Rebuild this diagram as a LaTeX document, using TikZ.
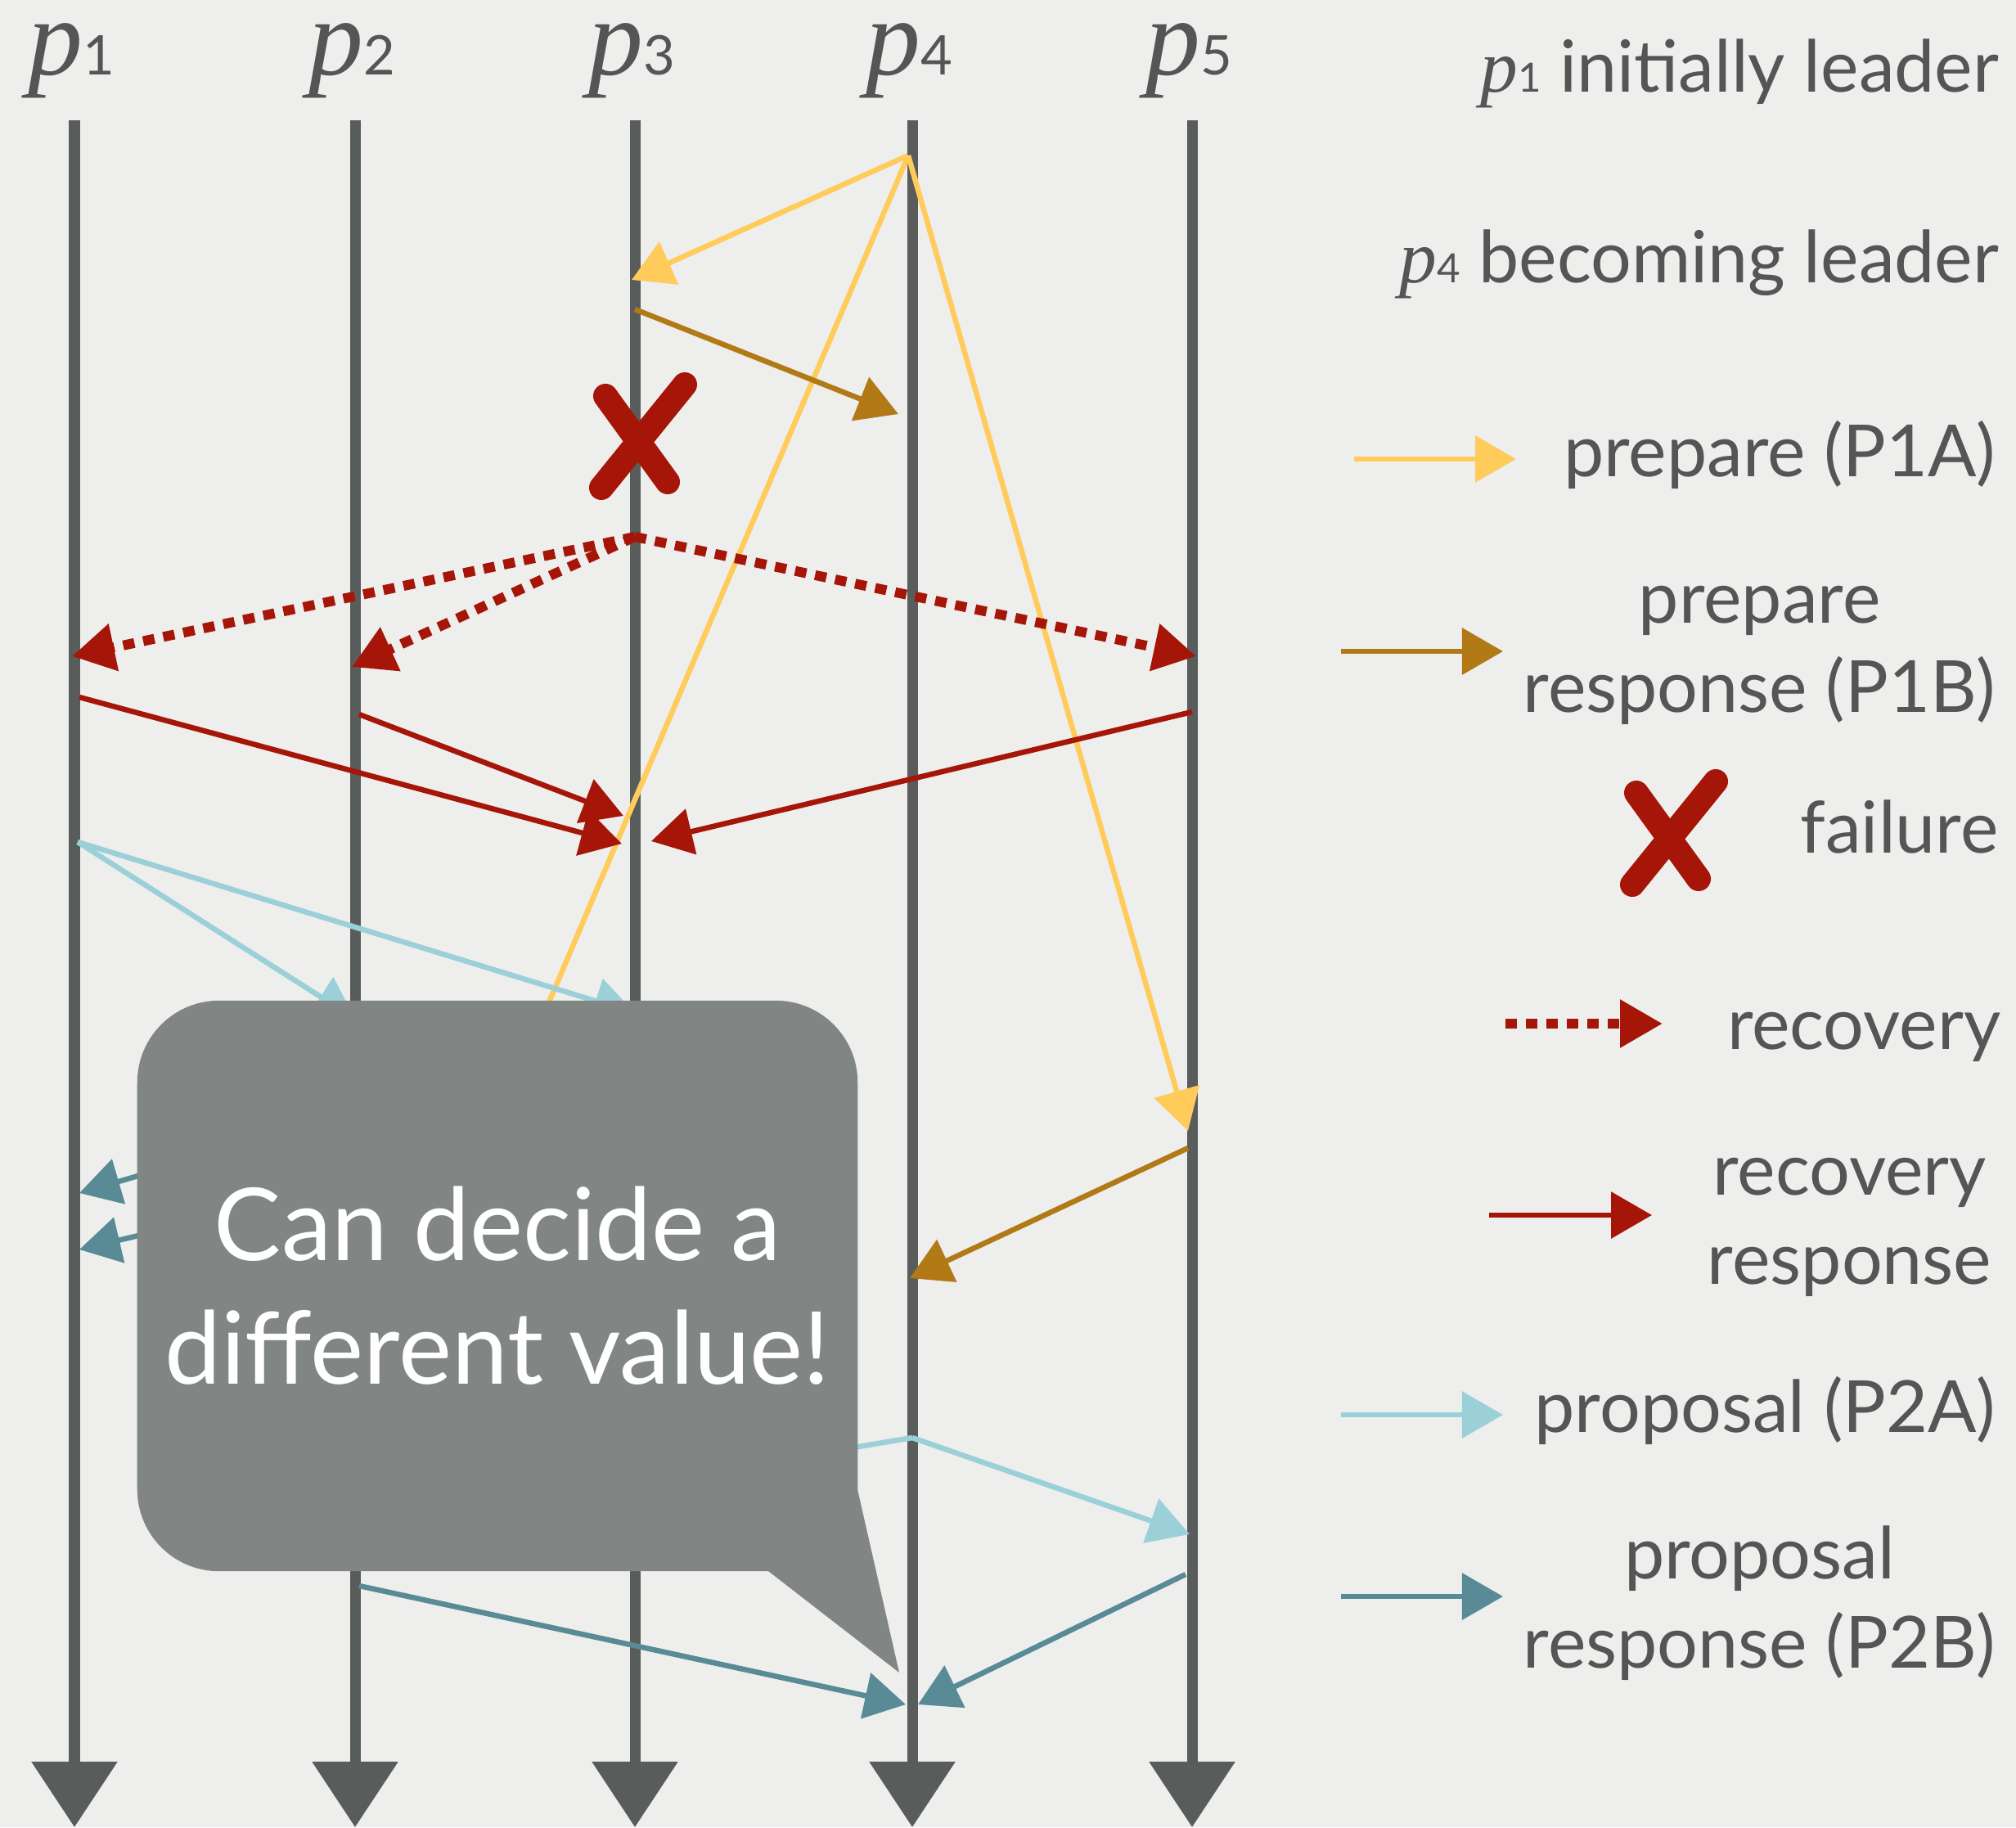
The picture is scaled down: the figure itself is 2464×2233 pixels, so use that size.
\documentclass[tikz,border=0pt]{standalone}
\usepackage{fontspec}
\setmainfont{Lato}
\newfontfamily\pfont{Liberation Serif}
\usetikzlibrary{arrows.meta, positioning}
\definecolor{paper}{RGB}{238,238,237}
\definecolor{lifegray}{RGB}{88,92,91}
\definecolor{textgray}{RGB}{85,85,85}
\definecolor{prepyellow}{RGB}{255,204,92}
\definecolor{prepbrown}{RGB}{178,122,22}
\definecolor{recred}{RGB}{165,22,8}
\definecolor{proplight}{RGB}{156,208,216}
\definecolor{propteal}{RGB}{88,139,150}
\definecolor{bubblegray}{RGB}{129,134,132}
% p with its number: #1 number, #2 size of p, #3 size of number
\newcommand{\procid}[3]{{\pfont\itshape\fontsize{#2}{#2}\selectfont p}{\fontsize{#3}{#3}\selectfont #1}}
\tikzset{
  lifeline/.style={line width=0.13cm, color=lifegray, -{Triangle[length=0.8cm,width=1.02cm]}},
  msg/.style={line width=0.065cm, -{Triangle[length=0.5cm,width=0.56cm]}},
  prepmsg/.style={msg, color=prepyellow},
  prepack/.style={msg, color=prepbrown},
  recmsg/.style={line width=0.12cm, color=recred, dash pattern=on 0.14cm off 0.11cm, -{Triangle[length=0.52cm,width=0.56cm]}},
  recack/.style={msg, color=recred},
  propmsg/.style={msg, color=proplight},
  propack/.style={msg, color=propteal},
  failmark/.style={line width=0.3cm, color=recred, line cap=round},
  plabel/.style={anchor=base, text=textgray, inner sep=0, text height=0.55cm},
  legtext/.style={anchor=base east, text=textgray, inner sep=0, font=\fontsize{25}{31}\selectfont},
  bubble/.style={fill=bubblegray, rounded corners=1cm, minimum width=8.8cm, minimum height=6.97cm, inner sep=0, text=white, align=center, font=\fontsize{35}{43}\selectfont},
}

\begin{document}
\begin{tikzpicture}[x=0.01cm, y=-0.01cm]
    % Nền giấy
    \useasboundingbox (0,0) rectangle (2464,2233);
    \fill[paper] (0,0) rectangle (2464,2233);

    % Năm đường thời gian p1 ... p5
    \foreach \i/\x in {1/91, 2/434, 3/776, 4/1115, 5/1457} {
        \coordinate (t\i) at (\x,147);
        \coordinate (b\i) at (\x,2233);
        \draw[lifeline] (t\i) -- (b\i);
        \node[plabel] (lbl\i) at (\x-4,91) {\procid{\i}{38}{19}};
    }

    % prepare (P1A) từ p4
    \coordinate (pa) at (1110,190);
    \coordinate (pa3) at (772,342);
    \coordinate (pa2) at (432,1788); % bị bong bóng che
    \coordinate (pa5) at (1452,1382);
    \draw[prepmsg] (pa) -- (pa3);
    \draw[prepmsg] (pa) -- (pa2);
    \draw[prepmsg] (pa) -- (pa5);

    % prepare response (P1B)
    \coordinate (pb3) at (776,378);
    \coordinate (pb4) at (1098,506);
    \draw[prepack] (pb3) -- (pb4); % p3 trả lời p4
    \coordinate (pb5) at (1452,1403);
    \coordinate (pb4b) at (1112,1562);
    \draw[prepack] (pb5) -- (pb4b); % p5 trả lời p4

    % p3 hỏng
    \coordinate (crash) at (785,535);
    \draw[failmark, shift={(crash)}] (-45,-51) -- (31,54) (52,-65) -- (-50,61);

    % recovery từ p3
    \coordinate (rc) at (776,656);
    \coordinate (rc1) at (88,802);
    \coordinate (rc2) at (430,815);
    \coordinate (rc5) at (1462,802);
    \draw[recmsg] (rc) -- (rc1);
    \draw[recmsg] (rc) -- (rc2);
    \draw[recmsg] (rc) -- (rc5);

    % recovery response về p3
    \coordinate (rr1) at (97,852);
    \coordinate (rr1e) at (760,1031);
    \draw[recack] (rr1) -- (rr1e);
    \coordinate (rr2) at (439,873);
    \coordinate (rr2e) at (762,997);
    \draw[recack] (rr2) -- (rr2e);
    \coordinate (rr5) at (1457,870);
    \coordinate (rr5e) at (796,1028);
    \draw[recack] (rr5) -- (rr5e);

    % proposal (P2A) từ p1
    \coordinate (pp1) at (95,1029);
    \coordinate (pp2) at (434,1245);
    \coordinate (pp3) at (776,1238);
    \draw[propmsg] (pp1) -- (pp2);
    \draw[propmsg] (pp1) -- (pp3);

    % proposal response (P2B) về p1, phần lớn bị che
    \coordinate (pr2) at (432,1360);
    \coordinate (pr1a) at (97,1458);
    \draw[propack] (pr2) -- (pr1a);
    \coordinate (pr3) at (773,1368);
    \coordinate (pr1b) at (97,1527);
    \draw[propack] (pr3) -- (pr1b);

    % proposal (P2A) từ p4
    \coordinate (pq4) at (1115,1757);
    \coordinate (pq3) at (773,1814); % bị bong bóng che
    \coordinate (pq5) at (1454,1875);
    \draw[propmsg] (pq4) -- (pq3);
    \draw[propmsg] (pq4) -- (pq5);

    % proposal response (P2B) về p4
    \coordinate (ps2) at (439,1938);
    \coordinate (ps4a) at (1107,2083);
    \draw[propack] (ps2) -- (ps4a);
    \coordinate (ps5) at (1449,1924);
    \coordinate (ps4b) at (1122,2083);
    \draw[propack] (ps5) -- (ps4b);

    % Bong bóng lời nói
    \node[bubble] (callout) at (608,1571.5) {Can decide a\\different value!};
    \coordinate (tailtip) at (1099,2044);
    \fill[bubblegray] (1048,1820) -- (tailtip) -- (939,1920) -- (939,1820) -- cycle;

    % Chú thích bên phải
    \node[legtext] (lead1) at (2444,112) {\procid{1}{26}{14}\ initially leader};
    \node[legtext] (lead4) at (2444,345) {\procid{4}{26}{14}\ becoming leader};

    \coordinate (la1) at (1655,561);
    \coordinate (la2) at (1853,561);
    \draw[prepmsg] (la1) -- (la2);
    \node[legtext] (lega) at (2440,582) {prepare (P1A)};

    \coordinate (lb1) at (1639,796);
    \coordinate (lb2) at (1837,796);
    \draw[prepack] (lb1) -- (lb2);
    \node[legtext] (legb) at (2440,761) {\begin{tabular}[t]{@{}c@{}}prepare\\response (P1B)\end{tabular}};

    \coordinate (lx) at (2045,1020);
    \draw[failmark, shift={(lx)}] (-45,-51) -- (31,54) (52,-65) -- (-50,61);
    \node[legtext] (legx) at (2443,1042) {failure};

    \coordinate (lc1) at (1840,1251);
    \coordinate (lc2) at (2032,1251);
    \draw[recmsg] (lc1) -- (lc2);
    \node[legtext] (legc) at (2446,1282) {recovery};

    \coordinate (ld1) at (1820,1485);
    \coordinate (ld2) at (2019,1485);
    \draw[recack] (ld1) -- (ld2);
    \node[legtext] (legd) at (2435,1460) {\begin{tabular}[t]{@{}c@{}}recovery\\response\end{tabular}};

    \coordinate (le1) at (1639,1729);
    \coordinate (le2) at (1837,1729);
    \draw[propmsg] (le1) -- (le2);
    \node[legtext] (lege) at (2440,1750) {proposal (P2A)};

    \coordinate (lf1) at (1639,1951);
    \coordinate (lf2) at (1837,1951);
    \draw[propack] (lf1) -- (lf2);
    \node[legtext] (legf) at (2440,1929) {\begin{tabular}[t]{@{}c@{}}proposal\\response (P2B)\end{tabular}};
\end{tikzpicture}
\end{document}
